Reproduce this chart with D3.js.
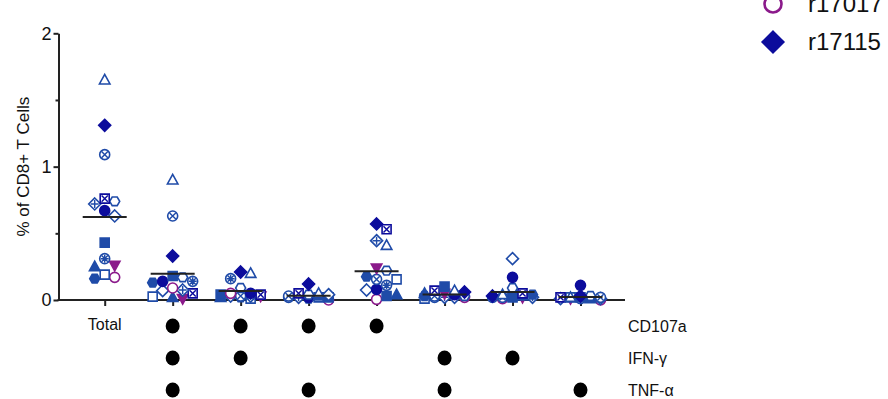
<!DOCTYPE html>
<html>
<head>
<meta charset="utf-8">
<script src="https://cdn.jsdelivr.net/npm/d3@7"></script>
<style>
  html, body { margin: 0; padding: 0; background: #fff; }
  svg { display: block; font-family: "Liberation Sans", Arial, sans-serif; }
</style>
</head>
<body>
<svg id="chart" width="888" height="399"></svg>
<script>
// Functional subsets of CD8+ T cells: Total, then each combination of the three markers
const categories = ["Total", "CD107a+IFN-γ+TNF-α", "CD107a+IFN-γ", "CD107a+TNF-α",
                    "CD107a", "IFN-γ+TNF-α", "IFN-γ", "TNF-α"];
const markers = ["CD107a", "IFN-γ", "TNF-α"];
const expressed = [
  [], ["CD107a", "IFN-γ", "TNF-α"], ["CD107a", "IFN-γ"], ["CD107a", "TNF-α"],
  ["CD107a"], ["IFN-γ", "TNF-α"], ["IFN-γ"], ["TNF-α"]
];

// One entry per donor; values follow the order of `categories` (% of CD8+ T cells)
const donorIds = ["D01", "r17115", "D03", "D04", "D05", "D06", "D07", "D08",
                  "D09", "D10", "D11", "D12", "D13", "D14", "r17017"];
const donorValues = [
  [1.65, 0.90,  0.20, 0.05, 0.41,  0.07, 0.04, 0.02],
  [1.31, 0.33,  0.21, 0.12, 0.57,  0.06, 0.03, 0.03],
  [1.09, 0.63,  0.03, 0.03, 0.155, 0.03, 0.02, 0.02],
  [0.72, 0.075, 0.03, 0.02, 0.445, 0.02, 0.02, 0.01],
  [0.74, 0.17,  0.09, 0.04, 0.22,  0.03, 0.09, 0.03],
  [0.76, 0.05,  0.04, 0.05, 0.53,  0.07, 0.05, 0.02],
  [0.67, 0.14,  0.05, 0.02, 0.08,  0.04, 0.17, 0.11],
  [0.63, 0.07,  0.03, 0.04, 0.075, 0.02, 0.31, 0.01],
  [0.43, 0.18,  0.04, 0.02, 0.03,  0.10, 0.03, 0.02],
  [0.31, 0.14,  0.16, 0.02, 0.11,  0.02, 0.02, 0.01],
  [0.25, 0.02,  0.02, 0.03, 0.04,  0.05, 0.03, 0.01],
  [0.16, 0.13,  0.02, 0.01, 0.175, 0.03, 0.04, 0.02],
  [0.19, 0.025, 0.01, 0.02, 0.155, 0.01, 0.02, 0.02],
  [0.26, 0.01,  0.03, 0.02, 0.24,  0.05, 0.02, 0.01],
  [0.17, 0.09,  0.05, 0.00, 0.005, 0.02, 0.01, 0.00]
];
const legendIds = ["r17017", "r17115"];
const yTicksMajor = [0, 1, 2];
const yTicksMinor = [0.5, 1.5];

// Symbol styling per donor
const BLUE = "#1f4ba8", NAVY = "#0c0c9c", PURPLE = "#8b1a8b";
const donorStyle = [
  { shape: "triangle", filled: false, mark: null,   color: BLUE },
  { shape: "diamond",  filled: true,  mark: null,   color: NAVY },
  { shape: "circle",   filled: false, mark: "x",    color: BLUE },
  { shape: "diamond",  filled: false, mark: "plus", color: BLUE },
  { shape: "hexagon",  filled: false, mark: null,   color: BLUE },
  { shape: "square",   filled: false, mark: "x",    color: NAVY },
  { shape: "circle",   filled: true,  mark: null,   color: NAVY },
  { shape: "diamond",  filled: false, mark: null,   color: BLUE },
  { shape: "square",   filled: true,  mark: null,   color: BLUE },
  { shape: "circle",   filled: false, mark: "star", color: BLUE },
  { shape: "triangle", filled: true,  mark: null,   color: BLUE },
  { shape: "hexagon",  filled: true,  mark: null,   color: BLUE },
  { shape: "square",   filled: false, mark: null,   color: BLUE },
  { shape: "triDown",  filled: true,  mark: null,   color: PURPLE },
  { shape: "circle",   filled: false, mark: null,   color: PURPLE }
];

// ---- geometry helpers for symbols ----
const poly = pts => "M" + pts.map(p => p[0].toFixed(2) + "," + p[1].toFixed(2)).join("L") + "Z";
const shapePath = {
  circle:   r => `M${r},0A${r},${r} 0 1,1 ${-r},0A${r},${r} 0 1,1 ${r},0Z`,
  square:   r => { const s = r * 0.9; return poly([[-s, -s], [s, -s], [s, s], [-s, s]]); },
  diamond:  r => { const d = r * 1.2; return poly([[0, -d], [d, 0], [0, d], [-d, 0]]); },
  triangle: r => poly([[0, -r * 1.1], [r * 1.05, r * 0.8], [-r * 1.05, r * 0.8]]),
  triDown:  r => poly([[0, r * 1.1], [r * 1.05, -r * 0.8], [-r * 1.05, -r * 0.8]]),
  hexagon:  r => poly(d3.range(6).map(i => [r * Math.cos(i * Math.PI / 3), r * Math.sin(i * Math.PI / 3)]))
};
const markPath = {
  x:    k => `M${-k},${-k}L${k},${k}M${k},${-k}L${-k},${k}`,
  plus: k => `M${-k * 1.3},0L${k * 1.3},0M0,${-k * 1.3}L0,${k * 1.3}`,
  star: k => `M${-k * 1.3},0L${k * 1.3},0M0,${-k * 1.3}L0,${k * 1.3}M${-k},${-k}L${k},${k}M${k},${-k}L${-k},${k}`
};

function drawSymbol(sel, style, r, sw) {
  sel.append("path")
    .attr("d", shapePath[style.shape](r))
    .attr("fill", style.filled ? style.color : "#fff")
    .attr("stroke", style.color)
    .attr("stroke-width", sw)
    .attr("stroke-linejoin", "miter");
  if (style.mark) {
    sel.append("path")
      .attr("d", markPath[style.mark](r * 0.62))
      .attr("fill", "none")
      .attr("stroke", style.color)
      .attr("stroke-width", sw * 0.9);
  }
}

// ---- scales ----
const svg = d3.select("#chart");
const axisLeftX = 58.5, axisRightX = 625, baseY = 300;
const x = d3.scalePoint().domain(categories).range([104.7, 580.5]);
const y = d3.scaleLinear().domain([0, 2]).range([baseY, 33.3]);

// ---- y axis ----
const yAxisMajor = svg.append("g")
  .attr("transform", `translate(${axisLeftX},0)`)
  .call(d3.axisLeft(y).tickValues(yTicksMajor).tickSize(5).tickSizeOuter(0).tickPadding(2)
        .tickFormat(d3.format("d")));
yAxisMajor.select(".domain").attr("stroke", "#222").attr("stroke-width", 2);
yAxisMajor.selectAll(".tick line").attr("stroke", "#222").attr("stroke-width", 2);
yAxisMajor.selectAll(".tick text").attr("font-size", 18).attr("fill", "#111")
  .attr("font-family", "Liberation Sans, Arial, sans-serif");

const yAxisMinor = svg.append("g")
  .attr("transform", `translate(${axisLeftX},0)`)
  .call(d3.axisLeft(y).tickValues(yTicksMinor).tickSize(3).tickFormat(""));
yAxisMinor.select(".domain").remove();
yAxisMinor.selectAll(".tick line").attr("stroke", "#222").attr("stroke-width", 2);

svg.append("text")
  .attr("transform", `translate(23,${y(1)}) rotate(-90)`)
  .attr("text-anchor", "middle")
  .attr("dominant-baseline", "central")
  .attr("font-size", 17)
  .attr("fill", "#111")
  .text("% of CD8+ T Cells");

// ---- x axis ----
const xAxis = svg.append("g")
  .attr("transform", `translate(0,${baseY})`)
  .call(d3.axisBottom(x).tickSize(6).tickSizeOuter(0).tickFormat(""));
xAxis.select(".domain").remove();
xAxis.selectAll(".tick line").attr("stroke", "#222").attr("stroke-width", 2);
svg.append("line")
  .attr("x1", axisLeftX - 1).attr("x2", axisRightX)
  .attr("y1", baseY).attr("y2", baseY)
  .attr("stroke", "#222").attr("stroke-width", 2);

// "Total" label and marker combination grid
svg.append("text")
  .attr("x", x(categories[0])).attr("y", 324)
  .attr("text-anchor", "middle").attr("dominant-baseline", "central")
  .attr("font-size", 16).attr("fill", "#111")
  .text(categories[0]);

const rowY = d3.scalePoint().domain(markers).range([326, 390]);
markers.forEach(m => {
  svg.append("text")
    .attr("x", 628).attr("y", rowY(m))
    .attr("dominant-baseline", "central")
    .attr("font-size", 16).attr("fill", "#111")
    .text(m);
});
categories.forEach((c, ci) => {
  expressed[ci].forEach(m => {
    svg.append("ellipse")
      .attr("cx", x(c)).attr("cy", rowY(m))
      .attr("rx", 7).attr("ry", 7.5)
      .attr("fill", "#000");
  });
});

// ---- scatter points, spread sideways (within a fixed width) where they would overlap ----
const step = 10, minDist = 9.8;
const offsets = [0, step, -step, 2 * step, -2 * step];
const plot = svg.append("g");
categories.forEach((c, ci) => {
  const pts = donorIds.map((id, di) => ({ di, v: donorValues[di][ci], py: y(donorValues[di][ci]) }))
    .sort((a, b) => a.py - b.py);
  const placed = [];
  pts.forEach(p => {
    let best = 0, bestCost = Infinity;
    for (const off of offsets) {
      const cost = d3.sum(placed, q => Math.max(0, minDist - Math.hypot(q.off - off, q.py - p.py)));
      if (cost < bestCost - 1e-9) { bestCost = cost; best = off; }
      if (cost === 0) break;
    }
    p.off = best;
    placed.push(p);
  });
  // draw lower points first so upper ones sit on top
  pts.slice().reverse().forEach(p => {
    const g = plot.append("g").attr("transform", `translate(${x(c) + p.off},${p.py})`);
    drawSymbol(g, donorStyle[p.di], 5, 1.6);
  });
  // mean line
  const m = d3.mean(donorValues, row => row[ci]);
  plot.append("line")
    .attr("x1", x(c) - 22).attr("x2", x(c) + 22)
    .attr("y1", y(m)).attr("y2", y(m))
    .attr("stroke", "#222").attr("stroke-width", 2);
});

// ---- legend ----
const legend = svg.append("g");
legendIds.forEach((id, i) => {
  const di = donorIds.indexOf(id);
  const ly = 42 - 38 * (legendIds.length - 1 - i);
  const g = legend.append("g").attr("transform", `translate(773,${ly})`);
  drawSymbol(g, donorStyle[di], 8.5, 2.6);
  legend.append("text")
    .attr("x", 808).attr("y", ly + 8)
    .attr("font-size", 24).attr("fill", "#111")
    .text(id);
});
</script>
</body>
</html>
